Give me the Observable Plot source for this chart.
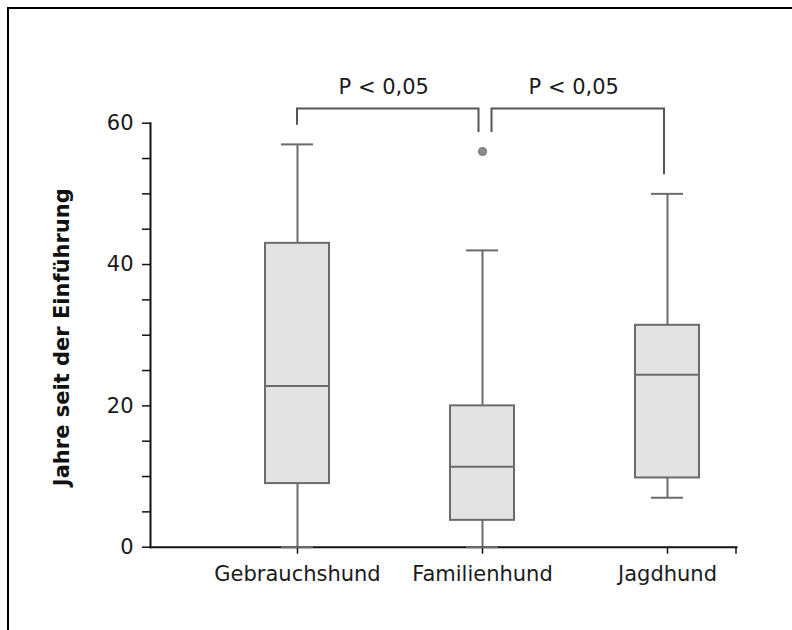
<!DOCTYPE html>
<html><head><meta charset="utf-8">
<script src="https://cdn.jsdelivr.net/npm/d3@7"></script>
<script src="https://cdn.jsdelivr.net/npm/@observablehq/plot@0.6"></script>
<style>
body{margin:0;background:#fff;}
#wrap{position:relative;width:792px;height:630px;overflow:hidden;}
#wrap svg{display:block;}
#border{position:absolute;left:7px;top:7px;right:0;bottom:0;border-left:2px solid #000;border-top:2px solid #000;pointer-events:none;}
</style></head><body>
<div id="wrap"><div id="border"></div></div>
<script>
// ---- data ----
const categories = ["Gebrauchshund", "Familienhund", "Jagdhund"];
const whiskerLow  = [0, 0, 7];
const q1          = [9, 3.8, 9.8];
const median      = [22.8, 11.4, 24.4];
const q3          = [43, 20, 31.4];
const whiskerHigh = [57, 42, 50];
const outlierCategory = ["Familienhund"];
const outlierValue    = [56];
const yMajorTicks = [0, 20, 40, 60];
const comparisons = [["Gebrauchshund", "Familienhund"], ["Familienhund", "Jagdhund"]];
const pLabels = ["P < 0,05", "P < 0,05"];
const yTitle = "Jahre seit der Einführung";

const stats = categories.map((c, i) => ({
  category: c, lo: whiskerLow[i], q1: q1[i], med: median[i], q3: q3[i], hi: whiskerHigh[i]
}));
const outliers = outlierCategory.map((c, i) => ({category: c, value: outlierValue[i]}));

const boxStroke = "#6b6b6b";
const bracketLevel = 62;

function topOf(c) {
  const vals = [whiskerHigh[categories.indexOf(c)]];
  outliers.forEach(o => { if (o.category === c) vals.push(o.value); });
  return Math.max(...vals);
}

function bracketMark(index, scales, values, dimensions, context) {
  const xs = scales.x, ys = scales.y;
  const bw = typeof xs.bandwidth === "function" ? xs.bandwidth() : (xs.bandwidth || 0);
  const cx = c => xs(c) + bw / 2;
  const leftOff = [0, 9.5], rightOff = [-3.5, -3];
  const g = d3.create("svg:g");
  comparisons.forEach(([a, b], i) => {
    const x1 = cx(a) + leftOff[i], x2 = cx(b) + rightOff[i];
    const yt = ys(bracketLevel);
    const ya = ys(topOf(a) + 2.7), yb = ys(topOf(b) + 2.7);
    g.append("path")
      .attr("d", `M${x1},${ya}V${yt}H${x2}V${yb}`)
      .attr("fill", "none").attr("stroke", "#555").attr("stroke-width", 2);
    g.append("text")
      .attr("x", (x1 + x2) / 2 - 4).attr("y", yt - 15)
      .attr("text-anchor", "middle").attr("fill", "#1a1a1a")
      .text(pLabels[i]);
  });
  // end tick at right of x axis
  const xr = dimensions.width - dimensions.marginRight;
  const y0 = ys(0);
  g.append("line").attr("x1", xr).attr("x2", xr).attr("y1", y0).attr("y2", y0 + 7)
    .attr("stroke", "#111").attr("stroke-width", 1.5);
  return g.node();
}

const chart = Plot.plot({
  width: 792,
  height: 630,
  marginLeft: 150,
  marginRight: 56,
  marginTop: 122.7,
  marginBottom: 83.3,
  style: {fontFamily: "DejaVu Sans", fontSize: "21px", color: "#1a1a1a", background: "transparent"},
  x: {type: "band", domain: categories, range: [264, 699], paddingInner: 0.655, paddingOuter: 0},
  y: {domain: [0, 60]},
  marks: [
    Plot.ruleX(stats, {x: "category", y1: "lo", y2: "q1", stroke: boxStroke, strokeWidth: 2}),
    Plot.ruleX(stats, {x: "category", y1: "q3", y2: "hi", stroke: boxStroke, strokeWidth: 2}),
    Plot.frame({anchor: "left", stroke: "#111", strokeWidth: 2}),
    Plot.frame({anchor: "bottom", stroke: "#111", strokeWidth: 2}),
    Plot.axisY({
      ticks: d3.range(0, 61, 5), tickSize: 8, tickPadding: 9,
      tickFormat: d => yMajorTicks.includes(d) ? String(d) : "",
      label: null, stroke: "#111", strokeWidth: 1.5, fontSize: 21
    }),
    Plot.axisX({tickSize: 7, tickPadding: 12, label: null, stroke: "#111", strokeWidth: 1.5, fontSize: 21}),
    Plot.tickY(stats, {x: "category", y: "hi", insetLeft: 16, insetRight: 16, stroke: boxStroke, strokeWidth: 2}),
    Plot.tickY(stats, {x: "category", y: "lo", insetLeft: 16, insetRight: 16, stroke: boxStroke, strokeWidth: 2}),
    Plot.barY(stats, {x: "category", y1: "q1", y2: "q3", fill: "#e3e3e3", stroke: boxStroke, strokeWidth: 2}),
    Plot.tickY(stats, {x: "category", y: "med", stroke: boxStroke, strokeWidth: 2}),
    Plot.dot(outliers, {x: "category", y: "value", r: 4, fill: "#8c8c8c", stroke: "#6b6b6b", strokeWidth: 1}),
    bracketMark,
    Plot.text([yTitle], {frameAnchor: "left", dx: -88, dy: 2, rotate: -90, textAnchor: "middle", lineAnchor: "middle", fontWeight: "bold", fontSize: 21, fill: "#111", fontFamily: "DejaVu Sans"})
  ]
});
document.getElementById("wrap").prepend(chart);
</script>
</body></html>
